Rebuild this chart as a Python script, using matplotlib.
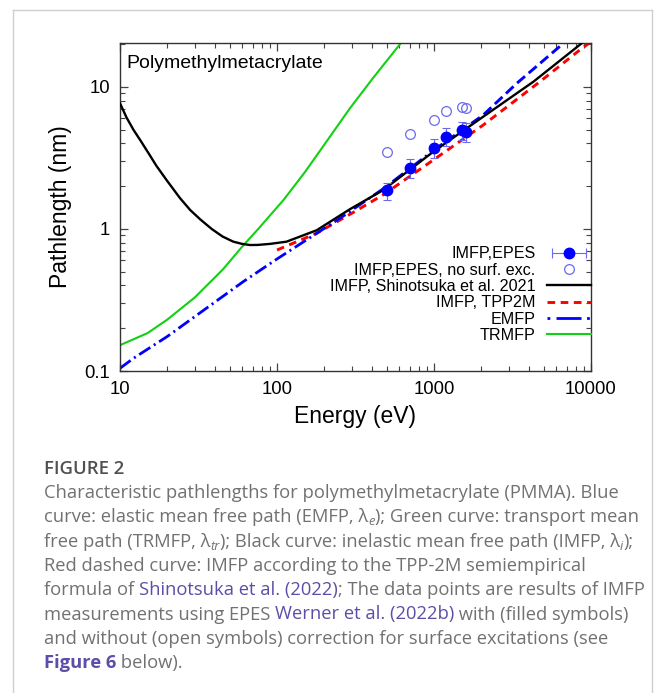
import matplotlib
matplotlib.use("Agg")
from matplotlib import pyplot as plt
from matplotlib.lines import Line2D
from matplotlib.legend_handler import HandlerTuple, HandlerLine2D
from matplotlib.ticker import LogLocator, NullFormatter, FuncFormatter

# ---- data ----
# IMFP, Shinotsuka et al. 2021 (black)
e_imfp = [10, 11, 12.2, 13.5, 15.5, 17, 19.8, 24.1, 28, 32.4, 38.4, 45, 52.7, 60, 67.3, 75, 90, 115, 179, 292, 475, 990, 2060, 4300, 8770, 10000]
y_imfp = [7.68, 6.1, 4.98, 4.2, 3.30, 2.80, 2.21, 1.65, 1.36, 1.17, 1.00, 0.885, 0.814, 0.785, 0.771, 0.772, 0.785, 0.814, 0.98, 1.38, 1.88, 3.5, 6.18, 10.9, 20.4, 22.6]
# IMFP, TPP2M (red dashed)
e_tpp = [100, 179, 292, 475, 990, 2060, 4730, 8630, 10000]
y_tpp = [0.711, 0.933, 1.27, 1.74, 3.06, 5.4, 10.9, 18.5, 20.8]
# EMFP (blue)
e_emfp = [10, 12.2, 20, 61, 100, 252, 475, 1000, 2060, 3365, 6670, 7500]
y_emfp = [0.1045, 0.123, 0.175, 0.426, 0.615, 1.19, 1.92, 3.6, 6.35, 10.6, 20.3, 22.5]
# TRMFP (green)
e_trmfp = [10, 15, 20, 30, 45, 61, 75, 110, 150, 200, 292, 410, 607, 650]
y_trmfp = [0.152, 0.185, 0.23, 0.33, 0.516, 0.767, 0.985, 1.6, 2.5, 3.92, 7.1, 11.6, 20.0, 22.0]
# EPES measurements
e_epes = [500, 700, 1000, 1200, 1500, 1600]
y_epes = [1.88, 2.67, 3.70, 4.47, 4.98, 4.84]
y_epes_lo = [1.60, 2.28, 3.15, 3.81, 4.25, 4.10]
y_epes_hi = [2.12, 3.09, 4.27, 5.12, 5.70, 5.55]
y_epes_nosurf = [3.5, 4.64, 5.86, 6.78, 7.2, 7.08]

labels = ["IMFP,EPES", "IMFP,EPES, no surf. exc.", "IMFP, Shinotsuka et al. 2021",
          "IMFP, TPP2M", "EMFP", "TRMFP"]
x_ticks = [10, 100, 1000, 10000]
y_ticks = [0.1, 1, 10]

W, H = 654, 693
plt.rcParams['font.family'] = ['Liberation Sans', 'DejaVu Sans']
plt.rcParams['lines.scale_dashes'] = False

fig = plt.figure(figsize=(W / 100, H / 100), dpi=100)

# card border
border = '#cfcfcf'
fig.add_artist(Line2D([12.5 / W, 12.5 / W], [0, 1 - 10 / H], color=border, lw=1))
fig.add_artist(Line2D([12.5 / W, 651.5 / W], [1 - 10 / H, 1 - 10 / H], color=border, lw=1))
fig.add_artist(Line2D([651.5 / W, 651.5 / W], [0, 1 - 10 / H], color=border, lw=1))

ax = fig.add_axes([120 / W, 1 - 371 / H, 471 / W, 328 / H])
ax.set_xscale('log')
ax.set_yscale('log')
ax.set_xlim(10, 10000)
ax.set_ylim(0.1, 20.4)

blue = '#0000ff'
lblue = '#6a6af0'
green = '#12d012'

l_black, = ax.plot(e_imfp, y_imfp, color='black', lw=1.7, zorder=3)
l_red, = ax.plot(e_tpp, y_tpp, color='#ff0000', lw=2.1, dashes=(5.5, 4), zorder=2)
# EMFP: dash-dot at low energies, dashed at high energies
n_split = e_emfp.index(1000) + 1
ax.plot(e_emfp[:n_split], y_emfp[:n_split], color=blue, lw=2.0, dashes=(9.5, 3, 1.5, 3), zorder=2)
ax.plot(e_emfp[n_split - 1:], y_emfp[n_split - 1:], color=blue, lw=2.1, dashes=(7.5, 3.5), zorder=2)
l_green, = ax.plot(e_trmfp, y_trmfp, color=green, lw=1.5, zorder=2)

err = [[y - lo for y, lo in zip(y_epes, y_epes_lo)], [hi - y for y, hi in zip(y_epes, y_epes_hi)]]
ax.errorbar(e_epes, y_epes, yerr=err, fmt='none', ecolor=lblue, elinewidth=0.8, capsize=3, capthick=0.8, zorder=4)
ax.plot(e_epes, y_epes, ls='none', marker='o', ms=7.5, color=blue, zorder=5)
ax.plot(e_epes, y_epes_nosurf, ls='none', marker='o', ms=7, mfc='none', mec=lblue, mew=0.9, zorder=5)

ax.text(0.013, 0.924, "Polymethylmetacrylate", transform=ax.transAxes, fontsize=14, va='baseline', ha='left')

# ticks
ax.xaxis.set_minor_locator(LogLocator(base=10, subs=range(2, 10), numticks=20))
ax.yaxis.set_minor_locator(LogLocator(base=10, subs=range(2, 10), numticks=20))
ax.xaxis.set_minor_formatter(NullFormatter())
ax.yaxis.set_minor_formatter(NullFormatter())
ax.set_xticks(x_ticks)
ax.set_yticks(y_ticks)
ax.xaxis.set_major_formatter(FuncFormatter(lambda v, p: '%g' % v))
ax.yaxis.set_major_formatter(FuncFormatter(lambda v, p: '%g' % v))
ax.tick_params(which='both', direction='in', top=True, right=True, color='#444444', labelsize=13.3)
ax.tick_params(which='major', length=6, width=0.9, pad=7)
ax.tick_params(which='minor', length=3.5, width=0.8)
for s in ax.spines.values():
    s.set_color('#333333')
    s.set_linewidth(1.0)

ax.set_xlabel("Energy (eV)", fontsize=16.5, labelpad=5)
ax.set_ylabel("Pathlength (nm)", fontsize=16.5, labelpad=9)

# legend
cap_h = Line2D([], [], color=lblue, lw=0.8, marker='|', ms=7, mew=0.8)
dot_h = Line2D([], [], ls='none', marker='o', ms=7.5, color=blue)
open_h = Line2D([], [], ls='none', marker='o', ms=7, mfc='none', mec=lblue, mew=0.9)
emfp_h = Line2D([], [], color=blue, lw=2.0, dashes=(2, 4.5, 18, 4))
handles = [(cap_h, dot_h), open_h, l_black, l_red, emfp_h, l_green]
ax.legend(handles, labels, loc='upper right', bbox_to_anchor=(1.0, 0.38),
          handler_map={tuple: HandlerTuple(ndivide=1), cap_h: HandlerLine2D(numpoints=2)},
          frameon=False, markerfirst=False, fontsize=11.6, handlelength=2.75,
          handletextpad=0.7, labelspacing=0.08, borderpad=0, borderaxespad=0)

# caption
grey = '#717171'
link = '#5b4ea8'
cap_font = ['Open Sans', 'DejaVu Sans']
cap_size = 13.25
renderer = fig.canvas.get_renderer()


def text_width(s, **kw):
    t = fig.text(0, 0, s + '|', **kw)
    t2 = fig.text(0, 0, '|', **kw)
    w = t.get_window_extent(renderer).width - t2.get_window_extent(renderer).width
    t.remove()
    t2.remove()
    return w


def rich_line(x, y, parts):
    for part in parts:
        s = part[0]
        opts = dict(color=grey, weight='normal', style='normal', scale=1.0, dy=0)
        opts.update(part[1] if len(part) > 1 else {})
        kw = dict(family=cap_font, fontsize=cap_size * opts['scale'], color=opts['color'],
                  fontweight=opts['weight'], fontstyle=opts['style'])
        fig.text(x / W, 1 - (y + opts['dy']) / H, s, va='baseline', ha='left', **kw)
        x += text_width(s, **kw)


fig.text(44 / W, 1 - 474 / H, "FIGURE 2", family=cap_font, fontsize=13.3, fontweight='semibold',
         color='#505050', va='baseline')

sub = dict(scale=0.7, style='italic', dy=3)
lines = [
    [("Characteristic pathlengths for polymethylmetacrylate (PMMA). Blue",)],
    [("curve: elastic mean free path (EMFP, λ",), ("e", sub), ("); Green curve: transport mean",)],
    [("free path (TRMFP, λ",), ("tr", sub), ("); Black curve: inelastic mean free path (IMFP, λ",),
     ("i", sub), (");",)],
    [("Red dashed curve: IMFP according to the TPP-2M semiempirical",)],
    [("formula of ",), ("Shinotsuka et al. (2022)", dict(color=link)), ("; The data points are results of IMFP",)],
    [("measurements using EPES ",), ("Werner et al. (2022b)", dict(color=link)), (" with (filled symbols)",)],
    [("and without (open symbols) correction for surface excitations (see",)],
    [("Figure 6", dict(color=link, weight='bold')), (" below).",)],
]
for i, parts in enumerate(lines):
    rich_line(44, 498 + i * 24.3, parts)

fig.savefig("out.png", dpi=100)
